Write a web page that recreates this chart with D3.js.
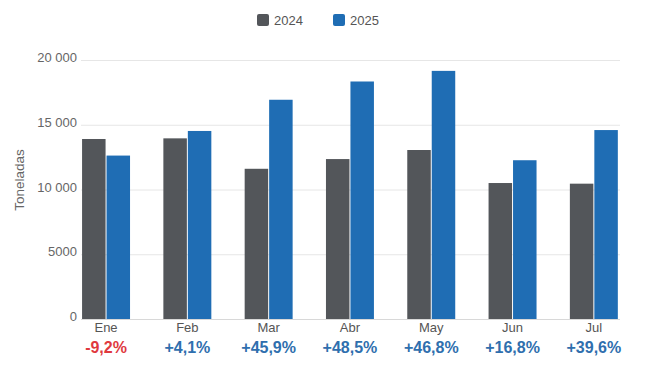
<!DOCTYPE html>
<html>
<head>
<meta charset="utf-8">
<script src="https://cdn.jsdelivr.net/npm/d3@7"></script>
<style>
  body { margin: 0; background: #fff; }
  svg { font-family: "Liberation Sans", Arial, sans-serif; }
</style>
</head>
<body>
<script>
// data
const months = ["Ene", "Feb", "Mar", "Abr", "May", "Jun", "Jul"];
const values2024 = [13900, 13950, 11600, 12350, 13050, 10500, 10450];
const values2025 = [12620, 14520, 16930, 18340, 19160, 12260, 14590];
const changes = ["-9,2%", "+4,1%", "+45,9%", "+48,5%", "+46,8%", "+16,8%", "+39,6%"];
const yTicks = [0, 5000, 10000, 15000, 20000];
const seriesNames = ["2024", "2025"];
const colors = ["#53565a", "#1f6db4"];

const width = 650, height = 366;
const plotLeft = 81, plotRight = 620, plotTop = 60, plotBottom = 319;

const svg = d3.select("body").append("svg")
  .attr("width", width)
  .attr("height", height);

// scales
const x = d3.scaleBand()
  .domain(months)
  .range([65.4, 634.5])
  .paddingInner(0.41)
  .paddingOuter(0.205);

const xInner = d3.scaleBand()
  .domain(seriesNames)
  .range([0, x.bandwidth()])
  .paddingInner(0.04);

const y = d3.scaleLinear()
  .domain([0, 20000])
  .range([plotBottom, plotTop]);

const fmt = v => v >= 10000 ? d3.format(",")(v).replace(",", " ") : String(v);

// grid lines
svg.append("g")
  .selectAll("line")
  .data(yTicks.filter(t => t > 0))
  .enter()
  .append("line")
  .attr("x1", plotLeft)
  .attr("x2", plotRight)
  .attr("y1", d => y(d) + 0.5)
  .attr("y2", d => y(d) + 0.5)
  .attr("stroke", "#e6e6e6")
  .attr("stroke-width", 1);

// y axis labels
svg.append("g")
  .selectAll("text")
  .data(yTicks)
  .enter()
  .append("text")
  .attr("x", 77)
  .attr("y", d => y(d) + 2)
  .attr("text-anchor", "end")
  .attr("font-size", 13)
  .attr("fill", "#666")
  .text(fmt);

svg.append("text")
  .attr("transform", "translate(24,180) rotate(-90)")
  .attr("text-anchor", "middle")
  .attr("font-size", 13.5)
  .attr("fill", "#666")
  .text("Toneladas");

// bars
const rows = months.map((m, i) => ({ month: m, vals: [values2024[i], values2025[i]] }));

const groups = svg.append("g")
  .selectAll("g")
  .data(rows)
  .enter()
  .append("g")
  .attr("transform", d => "translate(" + x(d.month) + ",0)");

groups.selectAll("rect")
  .data(d => d.vals.map((v, j) => ({ key: seriesNames[j], value: v, color: colors[j] })))
  .enter()
  .append("rect")
  .attr("x", d => xInner(d.key))
  .attr("y", d => y(d.value))
  .attr("width", xInner.bandwidth())
  .attr("height", d => y(0) - y(d.value))
  .attr("fill", d => d.color);

// baseline
svg.append("line")
  .attr("x1", plotLeft)
  .attr("x2", plotRight)
  .attr("y1", plotBottom + 0.5)
  .attr("y2", plotBottom + 0.5)
  .attr("stroke", "#d8d8d8");

// month labels
svg.append("g")
  .selectAll("text")
  .data(months)
  .enter()
  .append("text")
  .attr("x", d => x(d) + x.bandwidth() / 2)
  .attr("y", 332)
  .attr("text-anchor", "middle")
  .attr("font-size", 13)
  .attr("fill", "#555")
  .text(d => d);

// change labels
svg.append("g")
  .selectAll("text")
  .data(changes)
  .enter()
  .append("text")
  .attr("x", (d, i) => x(months[i]) + x.bandwidth() / 2)
  .attr("y", 352.5)
  .attr("text-anchor", "middle")
  .attr("font-size", 16)
  .attr("font-weight", "bold")
  .attr("fill", d => d.startsWith("-") ? "#e0393e" : "#2f6fae")
  .text(d => d);

// legend
const legend = svg.append("g")
  .selectAll("g")
  .data(seriesNames)
  .enter()
  .append("g")
  .attr("transform", (d, i) => "translate(" + (257 + i * 76) + ",14)");

legend.append("rect")
  .attr("width", 12)
  .attr("height", 12)
  .attr("rx", 2)
  .attr("fill", (d, i) => colors[i]);

legend.append("text")
  .attr("x", 17)
  .attr("y", 11)
  .attr("font-size", 13)
  .attr("fill", "#555")
  .text(d => d);
</script>
</body>
</html>
